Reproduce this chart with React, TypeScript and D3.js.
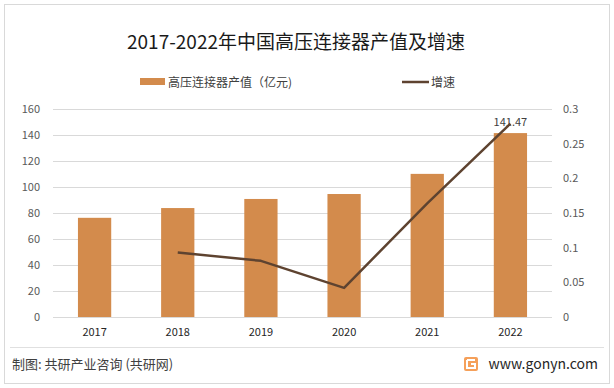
import { useEffect, useRef } from 'react';
import * as d3 from 'd3';

// chart data
const years = ['2017', '2018', '2019', '2020', '2021', '2022'];
const output = [76.3, 83.8, 90.8, 94.6, 110.1, 141.47];
const growth: (number | null)[] = [null, 0.093, 0.081, 0.042, 0.164, 0.279];
const leftTicks = [0, 20, 40, 60, 80, 100, 120, 140, 160];
const rightTicks = [0, 0.05, 0.1, 0.15, 0.2, 0.25, 0.3];

const barColor = '#D38B4C';
const lineColor = '#5E4330';
const font = '"Microsoft YaHei", "Noto Sans CJK SC", sans-serif';

export default function App() {
    const ref = useRef<SVGSVGElement>(null);

    useEffect(() => {
        const svg = d3.select(ref.current);
        svg.selectAll('*').remove();

        const W = 614, H = 388;
        const plot = { left: 53, right: 552, top: 109, bottom: 317 };

        svg.append('rect')
            .attr('x', 4.5).attr('y', 4.5)
            .attr('width', W - 9).attr('height', H - 9)
            .attr('fill', '#fff').attr('stroke', '#d9d9d9');

        // title
        svg.append('text')
            .attr('x', 296).attr('y', 49)
            .attr('text-anchor', 'middle')
            .attr('font-family', font)
            .attr('font-size', 19)
            .attr('fill', '#1a1a1a')
            .text('2017-2022年中国高压连接器产值及增速');

        // legend
        const lg = svg.append('g').attr('font-family', font).attr('font-size', 12).attr('fill', '#404040');
        lg.append('rect').attr('x', 140).attr('y', 78).attr('width', 25).attr('height', 7).attr('fill', barColor);
        lg.append('text').attr('x', 168).attr('y', 86.5).text('高压连接器产值（亿元)');
        lg.append('line').attr('x1', 402).attr('x2', 429).attr('y1', 82).attr('y2', 82)
            .attr('stroke', lineColor).attr('stroke-width', 2.5);
        lg.append('text').attr('x', 431).attr('y', 86.5).text('增速');

        const x = d3.scaleBand<string>()
            .domain(years)
            .range([plot.left, plot.right])
            .paddingInner(0.6)
            .paddingOuter(0.3);
        const yL = d3.scaleLinear().domain([0, 160]).range([plot.bottom, plot.top]);
        const yR = d3.scaleLinear().domain([0, 0.3]).range([plot.bottom, plot.top]);

        // gridlines
        svg.append('g')
            .selectAll('line')
            .data(leftTicks)
            .join('line')
            .attr('x1', plot.left).attr('x2', plot.right)
            .attr('y1', d => Math.round(yL(d)) + 0.5)
            .attr('y2', d => Math.round(yL(d)) + 0.5)
            .attr('stroke', '#d9d9d9');

        // left axis
        svg.append('g')
            .attr('transform', `translate(${plot.left},0)`)
            .call(d3.axisLeft(yL).tickValues(leftTicks).tickSize(0).tickPadding(13))
            .call(g => g.select('.domain').remove())
            .selectAll('text')
            .attr('font-family', font).attr('font-size', 11).attr('fill', '#595959');

        // right axis
        svg.append('g')
            .attr('transform', `translate(${plot.right},0)`)
            .call(d3.axisRight(yR).tickValues(rightTicks).tickSize(0).tickPadding(11)
                .tickFormat(d => String(+d)))
            .call(g => g.select('.domain').remove())
            .selectAll('text')
            .attr('font-family', font).attr('font-size', 11).attr('fill', '#595959');

        // bottom axis
        svg.append('g')
            .attr('transform', `translate(0,${plot.bottom})`)
            .call(d3.axisBottom(x).tickSize(0).tickPadding(11))
            .call(g => g.select('.domain').remove())
            .selectAll('text')
            .attr('font-family', font).attr('font-size', 11).attr('fill', '#262626');

        // bars
        svg.append('g')
            .selectAll('rect')
            .data(output)
            .join('rect')
            .attr('x', (d, i) => x(years[i])!)
            .attr('y', d => yL(d))
            .attr('width', x.bandwidth())
            .attr('height', d => yL(0) - yL(d))
            .attr('fill', barColor);

        // data label on last bar
        const last = output.length - 1;
        svg.append('text')
            .attr('x', x(years[last])! + x.bandwidth() / 2)
            .attr('y', yL(output[last]) - 7)
            .attr('text-anchor', 'middle')
            .attr('font-family', font).attr('font-size', 11).attr('fill', '#404040')
            .text(d3.format('.2f')(output[last]));

        // growth line
        const line = d3.line<number | null>()
            .defined(d => d !== null)
            .x((d, i) => x(years[i])! + x.bandwidth() / 2)
            .y(d => yR(d as number));
        svg.append('path')
            .datum(growth)
            .attr('d', line)
            .attr('fill', 'none')
            .attr('stroke', lineColor)
            .attr('stroke-width', 2.5)
            .attr('stroke-linejoin', 'round');

        // footer
        svg.append('line')
            .attr('x1', 10).attr('x2', 604).attr('y1', 347.5).attr('y2', 347.5)
            .attr('stroke', '#e0e0e0');
        svg.append('text')
            .attr('x', 12).attr('y', 369)
            .attr('font-family', font).attr('font-size', 13).attr('fill', '#404040')
            .text('制图: 共研产业咨询 (共研网)');

        const logo = svg.append('g').attr('transform', 'translate(464,357)');
        logo.append('rect').attr('width', 14).attr('height', 14).attr('rx', 2).attr('fill', '#F5A05A');
        logo.append('path')
            .attr('d', 'M3,3 H11 M3,3 V11 H11 V7 H7')
            .attr('fill', 'none').attr('stroke', '#fff').attr('stroke-width', 2);
        svg.append('text')
            .attr('x', 598).attr('y', 369)
            .attr('text-anchor', 'end')
            .attr('font-family', font).attr('font-size', 14).attr('fill', '#262626')
            .text('www.gonyn.com');
    }, []);

    return <svg ref={ref} width={614} height={388} style={{ display: 'block', position: 'absolute', left: 0, top: 0 }} />;
}
